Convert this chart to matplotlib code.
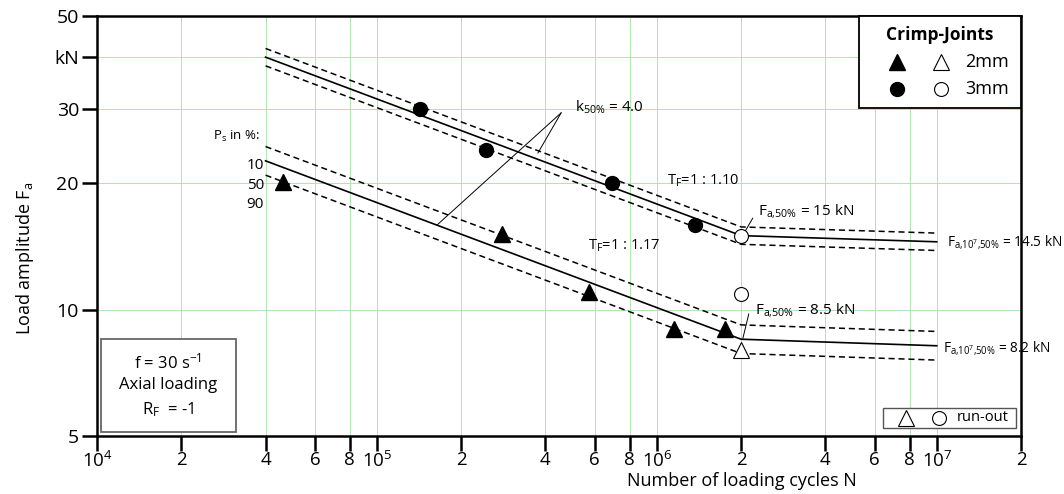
import matplotlib

matplotlib.use("Agg")
import matplotlib.pyplot as plt
import numpy as np
from matplotlib.patches import Rectangle

plt.rcParams["font.family"] = ["Open Sans", "DejaVu Sans"]
plt.rcParams["mathtext.fontset"] = "custom"
plt.rcParams["mathtext.rm"] = "Open Sans"
plt.rcParams["mathtext.it"] = "Open Sans:italic"
plt.rcParams["mathtext.bf"] = "Open Sans:bold"

# test points, 2 mm crimp joints (filled = failure, open = run-out)
n_2mm = [4.6e4, 2.8e5, 5.7e5, 1.15e6, 1.75e6]
f_2mm = [20.1, 15.1, 11.0, 9.0, 9.0]
n_2mm_ro = [2.0e6]
f_2mm_ro = [8.0]

# test points, 3 mm crimp joints
n_3mm = [1.42e5, 2.45e5, 6.9e5, 1.37e6]
f_3mm = [30.0, 24.0, 20.0, 15.9]
n_3mm_ro = [2.0e6, 2.0e6]
f_3mm_ro = [15.0, 10.9]

# S-N curves (50 %): start, knee point, 1e7
n_curve = [4.0e4, 2.0e6, 1.0e7]
f50_3mm = [39.9, 15.0, 14.5]
f50_2mm = [22.6, 8.5, 8.2]
t_3mm = 1.10   # scatter T_F = F10 / F90
t_2mm = 1.17

x_ticks = [1e4, 2e4, 4e4, 6e4, 8e4, 1e5, 2e5, 4e5, 6e5, 8e5,
           1e6, 2e6, 4e6, 6e6, 8e6, 1e7, 2e7]
x_labels = [r"$\mathregular{10^{4}}$", "2", "4", "6", "8", r"$\mathregular{10^{5}}$",
            "2", "4", "6", "8", r"$\mathregular{10^{6}}$", "2", "4", "6", "8",
            r"$\mathregular{10^{7}}$", "2"]
y_ticks = [5, 10, 20, 30, 40, 50]
y_labels = ["5", "10", "20", "30", "kN", "50"]

GRID = "#b3e3b3"

fig = plt.figure(figsize=(10.64, 4.94), dpi=100)
ax = fig.add_axes([0.0912, 0.1174, 0.8684, 0.8502])
ax.set_xscale("log")
ax.set_yscale("log")
ax.set_xlim(1e4, 2e7)
ax.set_ylim(5, 50)

ax.set_xticks(x_ticks)
ax.set_xticklabels(x_labels)
ax.set_yticks(y_ticks)
ax.set_yticklabels(y_labels)
ax.minorticks_off()
ax.tick_params(axis="both", which="major", length=11, width=1.8, labelsize=14,
               direction="out", pad=2)
ax.tick_params(axis="x", pad=0, labelsize=13.5)
for sp in ax.spines.values():
    sp.set_linewidth(1.8)
ax.grid(True, color=GRID, lw=0.7)
ax.set_axisbelow(True)

# S-N lines: 50 % solid, 10 % / 90 % dashed
for f50, t in [(f50_3mm, t_3mm), (f50_2mm, t_2mm)]:
    f50 = np.array(f50)
    s = np.sqrt(t)
    ax.plot(n_curve, f50, color="black", lw=1.2, zorder=3)
    ax.plot(n_curve, f50 * s, color="black", lw=1.1, ls=(0, (4, 2.5)), zorder=3)
    ax.plot(n_curve, f50 / s, color="black", lw=1.1, ls=(0, (4, 2.5)), zorder=3)

ax.plot(n_2mm, f_2mm, ls="none", marker="^", ms=11, color="black", zorder=4)
ax.plot(n_3mm, f_3mm, ls="none", marker="o", ms=10, color="black", zorder=4)
ax.plot(n_2mm_ro, f_2mm_ro, ls="none", marker="^", ms=11, mfc="white",
        mec="black", mew=0.8, zorder=4)
ax.plot(n_3mm_ro, f_3mm_ro, ls="none", marker="o", ms=10, mfc="white",
        mec="black", mew=0.8, zorder=4)

# annotations
ax.text(3.8e4, 25.9, r"$\mathregular{P_{s}}$ in %:", fontsize=9.5, ha="right", va="center")
for lab, fy in [("10", 22.0), ("50", 19.7), ("90", 17.8)]:
    ax.text(3.95e4, fy, lab, fontsize=11, ha="right", va="center")

ax.text(5.1e5, 30.3, r"$\mathregular{k_{50\%}}$ = 4.0", fontsize=11, va="center")
ax.plot([4.55e5, 1.64e5], [29.4, 15.9], color="black", lw=0.7, zorder=3)
ax.plot([4.55e5, 3.76e5], [29.4, 23.6], color="black", lw=0.7, zorder=3)

ax.text(1.09e6, 20.3, r"$\mathregular{T_{F}}$=1 : 1.10", fontsize=10.5, va="center")
ax.text(5.68e5, 14.2, r"$\mathregular{T_{F}}$=1 : 1.17", fontsize=10.5, va="center")

ax.text(2.3e6, 17.2, r"$\mathregular{F_{a{,}50\%}}$ = 15 kN", fontsize=11, va="center")
ax.plot([2.06e6, 2.2e6], [15.3, 16.5], color="black", lw=0.7)
ax.text(2.24e6, 9.98, r"$\mathregular{F_{a{,}50\%}}$ = 8.5 kN", fontsize=11, va="center")
ax.plot([2.03e6, 2.13e6], [8.55, 9.76], color="black", lw=0.7)

ax.text(1.09e7, 14.5, r"$\mathregular{F_{a{,}10^{7}{,}50\%}}$ = 14.5 kN", fontsize=9.8,
        va="center")
ax.text(1.05e7, 8.1, r"$\mathregular{F_{a{,}10^{7}{,}50\%}}$ = 8.2 kN", fontsize=9.8,
        va="center")

# legend box (top right)
tr = ax.transAxes
ax.add_patch(Rectangle((0.8247, 0.781), 0.1753, 0.219, transform=tr, fill=True,
                       fc="white", ec="black", lw=1.3, zorder=5, clip_on=False))
ax.text(0.9123, 0.955, "Crimp-Joints", transform=tr, fontsize=12.5, fontweight="bold",
        ha="center", va="center", zorder=6)
ax.plot([0.8658], [0.8905], transform=tr, marker="^", ms=11, color="black", zorder=6, clip_on=False)
ax.plot([0.9134], [0.8905], transform=tr, marker="^", ms=11, mfc="white", mec="black",
        mew=0.8, zorder=6, clip_on=False)
ax.text(0.9394, 0.8905, "2mm", transform=tr, fontsize=13, va="center", zorder=6)
ax.plot([0.8658], [0.826], transform=tr, marker="o", ms=10, color="black", zorder=6, clip_on=False)
ax.plot([0.9134], [0.826], transform=tr, marker="o", ms=10, mfc="white", mec="black",
        mew=0.8, zorder=6, clip_on=False)
ax.text(0.9394, 0.826, "3mm", transform=tr, fontsize=13, va="center", zorder=6)

# run-out box (bottom right)
ax.add_patch(Rectangle((0.8506, 0.019), 0.144, 0.0477, transform=tr, fc="white",
                       ec="#555555", lw=1.0, zorder=5))
ax.plot([0.8755], [0.0435], transform=tr, marker="^", ms=11, mfc="white", mec="black",
        mew=0.8, zorder=6)
ax.plot([0.9113], [0.0435], transform=tr, marker="o", ms=10, mfc="white", mec="black",
        mew=0.8, zorder=6)
ax.text(0.9307, 0.0435, "run-out", transform=tr, fontsize=10.5, va="center", zorder=6)

# test conditions box (bottom left)
ax.add_patch(Rectangle((0.0043, 0.0095), 0.1461, 0.2215, transform=tr, fc="white",
                       ec="#666666", lw=1.3, zorder=5))
ax.text(0.0768, 0.176, r"f = 30 $\mathregular{s^{-1}}$", transform=tr, fontsize=12,
        ha="center", va="center", zorder=6)
ax.text(0.0768, 0.121, "Axial loading", transform=tr, fontsize=12,
        ha="center", va="center", zorder=6)
ax.text(0.0768, 0.062, r"$\mathregular{R_{F}}$  = -1", transform=tr, fontsize=12,
        ha="center", va="center", zorder=6)

fig.text(25 / 1064, 1 - 258 / 494, r"Load amplitude $\mathregular{F_{a}}$", fontsize=13,
         rotation=90, ha="center", va="center")
fig.text(742 / 1064, 1 - 481 / 494, "Number of loading cycles N", fontsize=13,
         ha="center", va="center")

fig.savefig("out.png", dpi=100)
